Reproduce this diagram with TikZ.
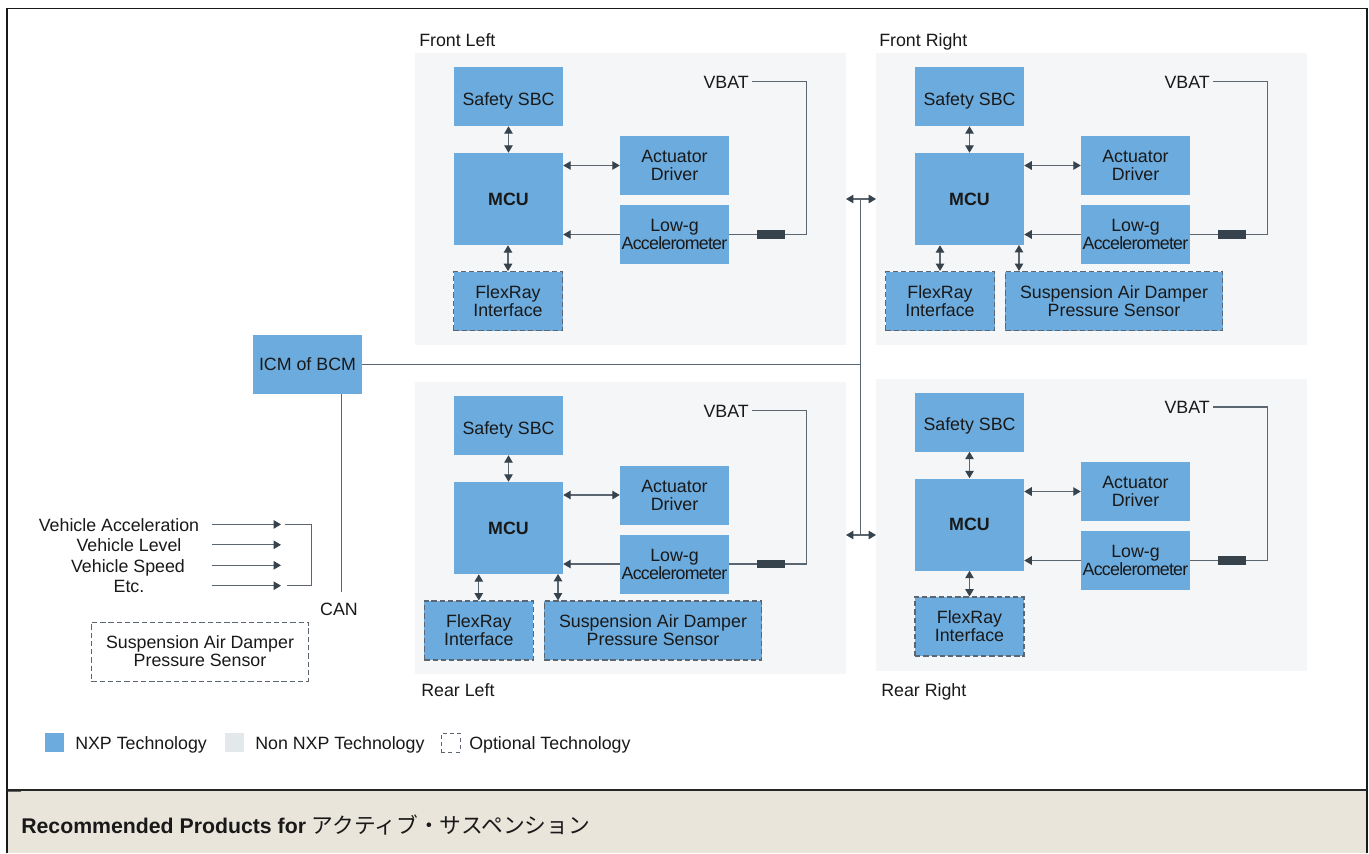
\documentclass[tikz,border=0pt]{standalone}
\usepackage{fontspec}
\setmainfont{Liberation Sans}
\newfontfamily\cjkfont{Noto Sans CJK JP}
\usetikzlibrary{arrows.meta}
\definecolor{nxpblue}{HTML}{6CABDD}
\definecolor{panelgray}{HTML}{F5F6F8}
\definecolor{nonnxp}{HTML}{E3E8EB}
\definecolor{linegray}{HTML}{5B6670}
\definecolor{darkline}{HTML}{36424C}
\definecolor{footerbg}{HTML}{E9E5DA}
\newcommand{\bodyfont}{\fontsize{13.35pt}{13.5pt}\selectfont}
\tikzset{
  x=0.75pt,y=-0.75pt,
  lbl/.style={font=\bodyfont,text=black!90,inner sep=0pt},
  blockbox/.style={fill=nxpblue,draw=none,minimum width=81.75pt,minimum height=44.25pt,inner sep=0pt,align=center,font=\bodyfont,text=black!90},
  optbox/.style={blockbox,draw=linegray,dashed,dash pattern=on 4pt off 2.2pt,line width=0.8pt},
  panelbox/.style={fill=panelgray,draw=none,inner sep=0pt},
  conn/.style={draw=linegray,line width=0.85pt},
  twoway/.style={conn,{Triangle[length=5.6pt,width=6.4pt,fill=darkline,color=darkline]}-{Triangle[length=5.6pt,width=6.4pt,fill=darkline,color=darkline]}},
  oneway/.style={conn,-{Triangle[length=5.6pt,width=6.4pt,fill=darkline,color=darkline]}},
  fusebox/.style={fill=darkline,draw=none,minimum width=21pt,minimum height=6.6pt,inner sep=0pt},
}
% prefix, dx, dy, dy of the two side blocks
\newcommand{\corecell}[4]{%
  \node[blockbox] (#1sbc) at (508.5+#2,96.5+#3) {\raisebox{-6.5pt}[0pt][0pt]{Safety SBC}};
  \node[blockbox,minimum height=69pt,font=\bodyfont\bfseries] (#1mcu) at (508.5+#2,199+#3) {MCU};
  \node[blockbox] (#1act) at (674.5+#2,165.5+#4) {Actuator\\Driver};
  \node[blockbox] (#1acc) at (674.5+#2,234.5+#4) {Low-g\\{\addfontfeatures{LetterSpace=-4.3}Accelerometer}};
  \node[lbl,anchor=base east] (#1vbat) at (749+#2,88+#3) {VBAT};
  \coordinate (#1vs) at (752+#2,81.5+#3);
  \coordinate (#1vc) at (806.5+#2,81.5+#3);
  \coordinate (#1vd) at (806.5+#2,234.5+#4);
  \draw[twoway] (#1sbc) -- (#1mcu);
  \draw[twoway] (#1mcu.east |- #1act) -- (#1act);
  \draw[oneway] (#1acc) -- (#1mcu.east |- #1acc);
  \draw[conn] (#1vs) -- (#1vc) -- (#1vd) -- (#1acc.east |- #1vd);
  \node[fusebox] (#1fuse) at (771+#2,234.5+#4) {};
}
\begin{document}
\begin{tikzpicture}
\useasboundingbox (0,0) rectangle (1369,853);
\fill[white] (0,0) rectangle (1369,853);
% panels
\node[panelbox,minimum width=323.25pt,minimum height=219pt] (flp) at (630.5,199) {};
\node[panelbox,minimum width=323.25pt,minimum height=219pt] (frp) at (1091.5,199) {};
\node[panelbox,minimum width=323.25pt,minimum height=219pt] (rlp) at (630.5,528) {};
\node[panelbox,minimum width=323.25pt,minimum height=219pt] (rrp) at (1091.5,525) {};
\node[lbl,anchor=base west] (fl) at (419,46) {Front Left};
\node[lbl,anchor=base west] (fr) at (879,46) {Front Right};
\node[lbl,anchor=base west] (rl) at (421,696) {Rear Left};
\node[lbl,anchor=base west] (rr) at (881,696) {Rear Right};
% cells
\corecell{a}{0}{0}{0}
\corecell{b}{461}{0}{0}
\corecell{c}{0}{329}{329.5}
\corecell{d}{461}{325.5}{326}
% FlexRay and sensors
\node[optbox] (aflex) at (508,301.2) {FlexRay\\Interface};
\draw[twoway] (amcu.south -| aflex) -- (aflex);
\node[optbox] (bflex) at (940,301) {FlexRay\\Interface};
\node[optbox,minimum width=163pt] (bsens) at (1114,301) {Suspension Air Damper\\Pressure Sensor};
\coordinate (bs) at (1019,245);
\draw[twoway] (bflex.north |- bmcu.south) -- (bflex);
\draw[twoway] (bs) -- (bs |- bsens.north);
\node[optbox] (cflex) at (478.8,630.5) {FlexRay\\Interface};
\node[optbox,minimum width=163pt] (csens) at (653,630.5) {Suspension Air Damper\\Pressure Sensor};
\coordinate (cs) at (558,574);
\draw[twoway] (cflex.north |- cmcu.south) -- (cflex);
\draw[twoway] (cs) -- (cs |- csens.north);
\node[optbox] (dflex) at (969.5,626.5) {FlexRay\\Interface};
\draw[twoway] (dmcu.south -| dflex) -- (dflex);
% bus
\node[blockbox] (icm) at (307.5,364.5) {ICM of BCM};
\coordinate (busj) at (860.7,364.5);
\coordinate (bust) at (860.7,199);
\coordinate (busb) at (860.7,535);
\coordinate (tl) at (846,199);
\coordinate (tr) at (876,199);
\coordinate (bl) at (846,535);
\coordinate (br) at (876,535);
\draw[conn] (icm) -- (busj);
\draw[conn] (bust) -- (busb);
\draw[twoway] (tl) -- (tr);
\draw[twoway] (bl) -- (br);
% CAN
\node[lbl,anchor=base] (can) at (339,615.7) {CAN};
\coordinate (canb) at (341.7,592);
\draw[conn] (icm.south -| canb) -- (canb);
% inputs
\node[lbl,anchor=base] (va) at (119,531) {Vehicle Acceleration};
\node[lbl,anchor=base] (vl) at (129,551) {Vehicle Level};
\node[lbl,anchor=base] (vs) at (128,572) {Vehicle Speed};
\node[lbl,anchor=base] (ve) at (129,592) {Etc.};
\foreach \n/\y in {a/524.4,b/544.8,c/565.3,d/585.7}{
  \coordinate (s\n) at (212,\y);
  \coordinate (e\n) at (281,\y);
  \draw[oneway] (s\n) -- (e\n);
}
\coordinate (m1) at (285,524.4);
\coordinate (m2) at (311.5,524.4);
\coordinate (m3) at (311.5,585.7);
\coordinate (m4) at (286.7,585.7);
\draw[conn] (m1) -- (m2) -- (m3) -- (m4);
\node[optbox,fill=none,minimum width=163pt,line width=0.65pt] (opt) at (200,651.5) {Suspension Air Damper\\Pressure Sensor};
% legend
\node[fill=nxpblue,minimum size=14.25pt,inner sep=0pt] (l1) at (54.5,742.5) {};
\node[lbl,anchor=base west] (l1t) at (75,749) {NXP Technology};
\node[fill=nonnxp,minimum size=14.25pt,inner sep=0pt] (l2) at (234.5,742.5) {};
\node[lbl,anchor=base west] (l2t) at (255,749) {Non NXP Technology};
\node[draw=linegray,dashed,dash pattern=on 3pt off 2.5pt,line width=0.6pt,minimum size=14.25pt,inner sep=0pt] (l3) at (450.5,742.5) {};
\node[lbl,anchor=base west] (l3t) at (469,749) {Optional Technology};
% footer and frame
\fill[footerbg] (7,790) rectangle (1366,853);
\draw[black!90,line width=1.4pt] (6.7,853) -- (6.7,8.5) -- (1367,8.5) -- (1367,853);
\draw[black!85,line width=1.2pt] (6.7,789.7) -- (1367,789.7);
\fill[black!60] (7.5,790.5) rectangle (21,791.5);
\node[lbl,anchor=base west,font=\fontsize{15.95pt}{16pt}\selectfont] (foot) at (21,833) {\textbf{Recommended Products for} {\fontsize{16.3pt}{16pt}\selectfont\cjkfont アクティブ・サスペンション}};
\end{tikzpicture}
\end{document}
